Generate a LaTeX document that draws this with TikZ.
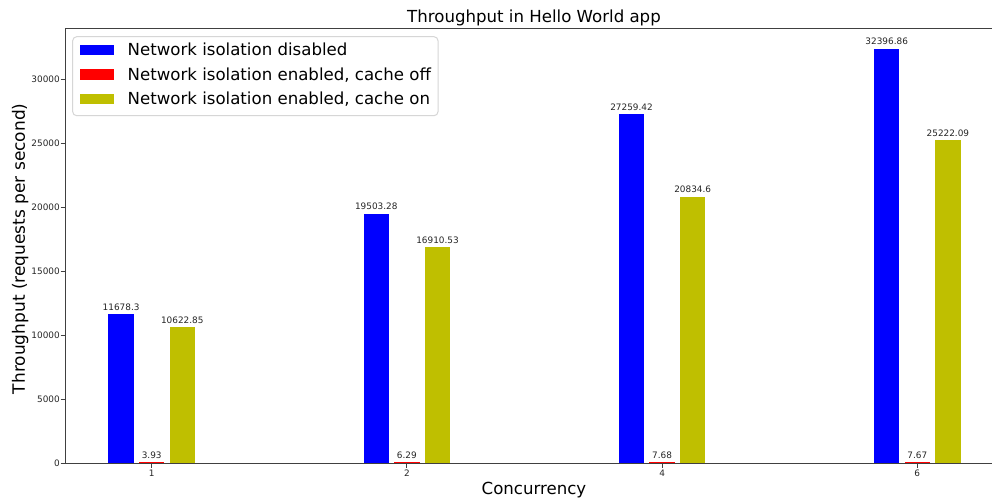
\documentclass[tikz,border=0pt]{standalone}
\usepackage{fontspec}
\setmainfont{DejaVu Sans}
\definecolor{barblue}{HTML}{0000FF}
\definecolor{barred}{HTML}{FF0000}
\definecolor{baryellow}{HTML}{BFBF00}
\definecolor{spinecol}{HTML}{404040}
\definecolor{legendedge}{HTML}{D6D6D6}
\begin{document}
\begin{tikzpicture}[x=1pt,y=-1pt,
  bigtext/.style={font=\fontsize{16.6}{20}\selectfont, inner sep=0pt},
  smalltext/.style={font=\fontsize{8.9}{10}\selectfont, inner sep=0pt, text=black!85},
  spine/.style={draw=spinecol, line width=1.1pt, line cap=rect},
  tickmark/.style={draw=spinecol, line width=1.1pt},
  legendframe/.style={draw=legendedge, fill=white, line width=1pt, rounded corners=4pt},
  barA/.style={fill=barblue},
  barB/.style={fill=barred},
  barC/.style={fill=baryellow}]
  % canvas: 992 x 500, pixel coordinates with y growing downwards
  \useasboundingbox (0,0) rectangle (992,500);
  \fill[white] (0,0) rectangle (992,500);

  % y axis: 0 at 463.3, 12.8 units per 1000 requests/s
  \def\yzero{463.3}
  \def\yk{12.8}

  % bars: groups 1,2,4,6; heights given in thousands of requests/s
  \foreach \gx/\ka/\kc/\la/\lb/\lc [count=\i] in {
      151.7/11.6783/10.62285/11678.3/3.93/10622.85,
      406.9/19.50328/16.91053/19503.28/6.29/16910.53,
      662.1/27.25942/20.8346/27259.42/7.68/20834.6,
      917.3/32.39686/25.22209/32396.86/7.67/25222.09}{
    \pgfmathsetmacro{\ta}{\yzero-\ka*\yk}
    \pgfmathsetmacro{\tc}{\yzero-\kc*\yk}
    % blue bar
    \fill[barA] (\gx-30.6-12.75,\yzero) rectangle (\gx-30.6+12.75,\ta);
    % red bar (height below one pixel, drawn as a thin strip)
    \fill[barB] (\gx-12.75,\yzero) rectangle (\gx+12.75,\yzero-1.1);
    % yellow bar
    \fill[barC] (\gx+30.6-12.75,\yzero) rectangle (\gx+30.6+12.75,\tc);
    % value labels
    \node[smalltext, anchor=base] (la\i) at (\gx-30.6,\ta-3.8) {\la};
    \node[smalltext, anchor=base] (lb\i) at (\gx,\yzero-1.1-3.8) {\lb};
    \node[smalltext, anchor=base] (lc\i) at (\gx+30.6,\tc-3.8) {\lc};
  }

  % spines (right spine lies outside the canvas)
  \draw[spine] (992,28.3) -- (65.5,28.3) -- (65.5,\yzero) -- (992,\yzero);

  % y ticks and labels
  \foreach \k/\v in {0/0,5/5000,10/10000,15/15000,20/20000,25/25000,30/30000}{
    \pgfmathsetmacro{\ty}{\yzero-\k*\yk}
    \draw[tickmark] (60.6,\ty) -- (65.5,\ty);
    \node[smalltext, anchor=base east] (yt\k) at (60,\ty+3.2) {\v};
  }

  % x ticks and labels
  \foreach \gx/\lab in {151.7/1, 406.9/2, 662.1/4, 917.3/6}{
    \draw[tickmark] (\gx,\yzero) -- (\gx,\yzero+4.9);
    \node[smalltext, anchor=base] (xt\lab) at (\gx,476.7) {\lab};
  }

  % axis labels and title
  \node[bigtext, anchor=base] (title) at (534,22.5) {Throughput in Hello World app};
  \node[bigtext, anchor=base] (xlabel) at (534,494.5) {Concurrency};
  \node[bigtext, font=\fontsize{17}{20}\selectfont, anchor=base, rotate=90] (ylabel) at (24.8,248.8) {Throughput (requests per second)};

  % legend
  \draw[legendframe] (72.7,36.7) rectangle (438,115.7);
  \foreach \c/\txt [count=\k from 0] in {
      barblue/Network isolation disabled,
      barred/{Network isolation enabled, cache off},
      baryellow/{Network isolation enabled, cache on}}{
    \pgfmathsetmacro{\ry}{50.4+24.2*\k}
    \fill[\c] (80,\ry-5.1) rectangle (114.3,\ry+5.1);
    \node[bigtext, anchor=base west] (leg\k) at (127.5,\ry+5.6) {\txt};
  }
\end{tikzpicture}
\end{document}
